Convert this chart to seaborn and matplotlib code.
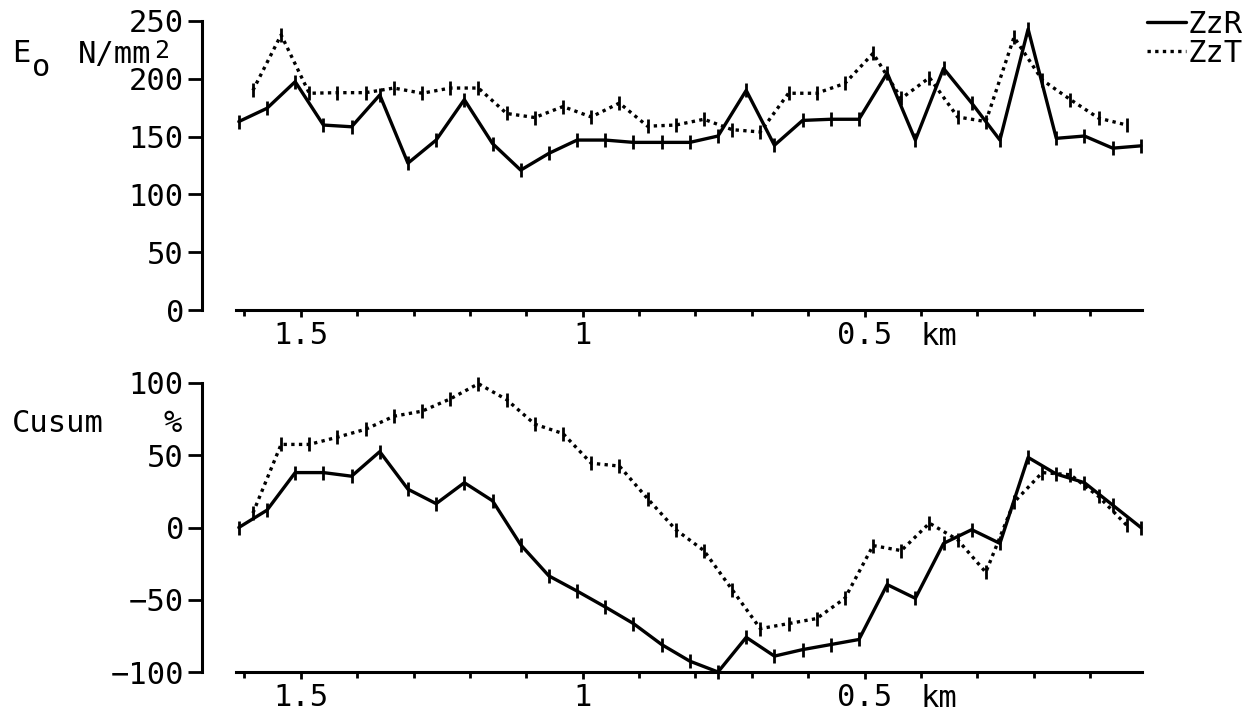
import pandas as pd
import matplotlib
matplotlib.use('Agg')
import matplotlib.pyplot as plt
import seaborn as sns
from matplotlib.lines import Line2D
from matplotlib.ticker import FixedLocator

# Style for plots
sns.set_style("ticks")
plt.rcParams['font.family'] = ['DejaVu Sans Mono', 'DejaVu Sans']
for key in ['text.color', 'axes.labelcolor', 'xtick.color', 'ytick.color',
            'axes.edgecolor']:
    plt.rcParams[key] = 'black'

# --- Data ---
# distance along the road (km), ZzR and ZzT points are offset by half a step
km_r = [1.61, 1.56, 1.51, 1.46, 1.41, 1.36, 1.31, 1.26, 1.21, 1.16, 1.11,
        1.06, 1.01, 0.96, 0.91, 0.86, 0.81, 0.76, 0.71, 0.66, 0.61, 0.56,
        0.51, 0.46, 0.41, 0.36, 0.31, 0.26, 0.21, 0.16, 0.11, 0.06, 0.01]
km_t = [1.585, 1.535, 1.485, 1.435, 1.385, 1.335, 1.285, 1.235, 1.185, 1.135,
        1.085, 1.035, 0.985, 0.935, 0.885, 0.835, 0.785, 0.735, 0.685, 0.635,
        0.585, 0.535, 0.485, 0.435, 0.385, 0.335, 0.285, 0.235, 0.185, 0.135,
        0.085, 0.035]

# E0 modulus N/mm2
e_r = [163, 174.5, 197.5, 160, 158.5, 186, 127, 147, 182, 144, 121,
       135.5, 147, 147, 145, 145, 145, 150.5, 190, 142.5, 164, 165,
       165, 205, 147, 209, 179, 147, 243, 148.5, 150.5, 140, 142]
e_t = [190, 238, 187.5, 188, 188, 192, 187.5, 192, 192, 170,
       166.5, 176, 167, 179, 159, 160, 165, 156, 154, 187.5,
       187.5, 196, 222, 183, 201, 167, 163, 236, 199, 182,
       166, 160]

# Cusum %
cusum_r = [0, 12, 38, 38, 35.5, 52.5, 26.5, 16.5, 31, 18.5, -12,
           -33.5, -44, -55, -66.5, -81, -92.5, -100, -76, -89, -84.5, -81,
           -77.5, -39.5, -49, -11, -1.5, -11, 48.5, 37, 31, 15.5, 0]
cusum_t = [10, 57.5, 57.5, 62.5, 68, 77, 80.5, 89, 99.5, 88.5,
           71.5, 65, 44.5, 42.5, 20, -1.5, -16, -43, -70, -66.5,
           -63, -49, -12.5, -16, 3, -8.5, -31, 17.5, 38, 36.5,
           21.5, 1.5]

x_major = [1.5, 1.0, 0.5]
x_major_labels = ['1.5', '1', '0.5']
x_minor = [1.6, 1.4, 1.3, 1.2, 1.1, 0.9, 0.8, 0.7, 0.6, 0.4, 0.3, 0.2, 0.1]
e_ticks = [0, 50, 100, 150, 200, 250]
cusum_ticks = [-100, -50, 0, 50, 100]
series_names = ['ZzR', 'ZzT']

df_r = pd.DataFrame({'km': km_r, 'E': e_r, 'Cusum': cusum_r})
df_t = pd.DataFrame({'km': km_t, 'E': e_t, 'Cusum': cusum_t})

# --- Figure ---
W, H = 1257, 714
fig = plt.figure(figsize=(W / 100, H / 100), dpi=100)
ax1 = fig.add_axes([236 / W, 1 - 310 / H, 906 / W, 289 / H])
ax2 = fig.add_axes([236 / W, 1 - 672 / H, 906 / W, 289 / H])

FS = 22
LW = 2.4
dotted = (0, (1, 1.3))
line_kws = dict(color='black', lw=LW, marker='|', markersize=10,
                markeredgewidth=2, markeredgecolor='black', sort=False,
                estimator=None, clip_on=False)

for ax, col, ticks, ylim in [(ax1, 'E', e_ticks, (0, 250)),
                             (ax2, 'Cusum', cusum_ticks, (-100, 100))]:
    sns.lineplot(data=df_r, x='km', y=col, ax=ax, **line_kws)
    sns.lineplot(data=df_t, x='km', y=col, ax=ax, linestyle=dotted,
                 dash_capstyle='butt', **line_kws)
    ax.set_xlim(1.615, 0.008)
    ax.set_ylim(*ylim)
    ax.set_yticks(ticks)
    ax.set_xticks(x_major)
    ax.set_xticklabels(x_major_labels)
    ax.xaxis.set_minor_locator(FixedLocator(x_minor))
    ax.set_xlabel('')
    ax.set_ylabel('')
    sns.despine(ax=ax)
    ax.spines['left'].set_position(('outward', 24.5))
    for s in ['left', 'bottom']:
        ax.spines[s].set_linewidth(2.2)
    ax.tick_params(axis='y', length=10, width=2, pad=3, labelsize=FS)
    ax.tick_params(axis='x', which='major', length=5, width=2, pad=3,
                   labelsize=FS)
    ax.tick_params(axis='x', which='minor', length=4, width=2)
    ax.annotate('km', xy=(0.4, 0), xycoords=('data', 'axes fraction'),
                xytext=(0, -8.5), textcoords='offset points',
                ha='left', va='top', fontsize=FS)
    ax.patch.set_alpha(0)

# Axis titles
fig.text(12 / W, 1 - 54 / H, 'E', fontsize=FS, ha='left', va='center')
fig.text(32 / W, 1 - 67 / H, 'o', fontsize=FS, ha='left', va='center')
fig.text(78 / W, 1 - 54 / H, 'N/mm', fontsize=FS, ha='left', va='center')
fig.text(154 / W, 1 - 51 / H, '2', fontsize=18, ha='left', va='center')
fig.text(12 / W, 1 - 423 / H, 'Cusum', fontsize=FS, ha='left', va='center')
fig.text(163 / W, 1 - 423 / H, '%', fontsize=FS, ha='left', va='center')

# Legend
handles = [Line2D([], [], color='black', lw=LW),
           Line2D([], [], color='black', lw=LW, ls=dotted, dash_capstyle='butt')]
fig.legend(handles=handles, labels=series_names, loc='upper right',
           bbox_to_anchor=(1243 / W, 1 - 10 / H), frameon=False, fontsize=FS,
           handlelength=1.3, handletextpad=0.05, labelspacing=0.0,
           borderpad=0, borderaxespad=0)

fig.savefig('out.png', dpi=100, facecolor='white')
